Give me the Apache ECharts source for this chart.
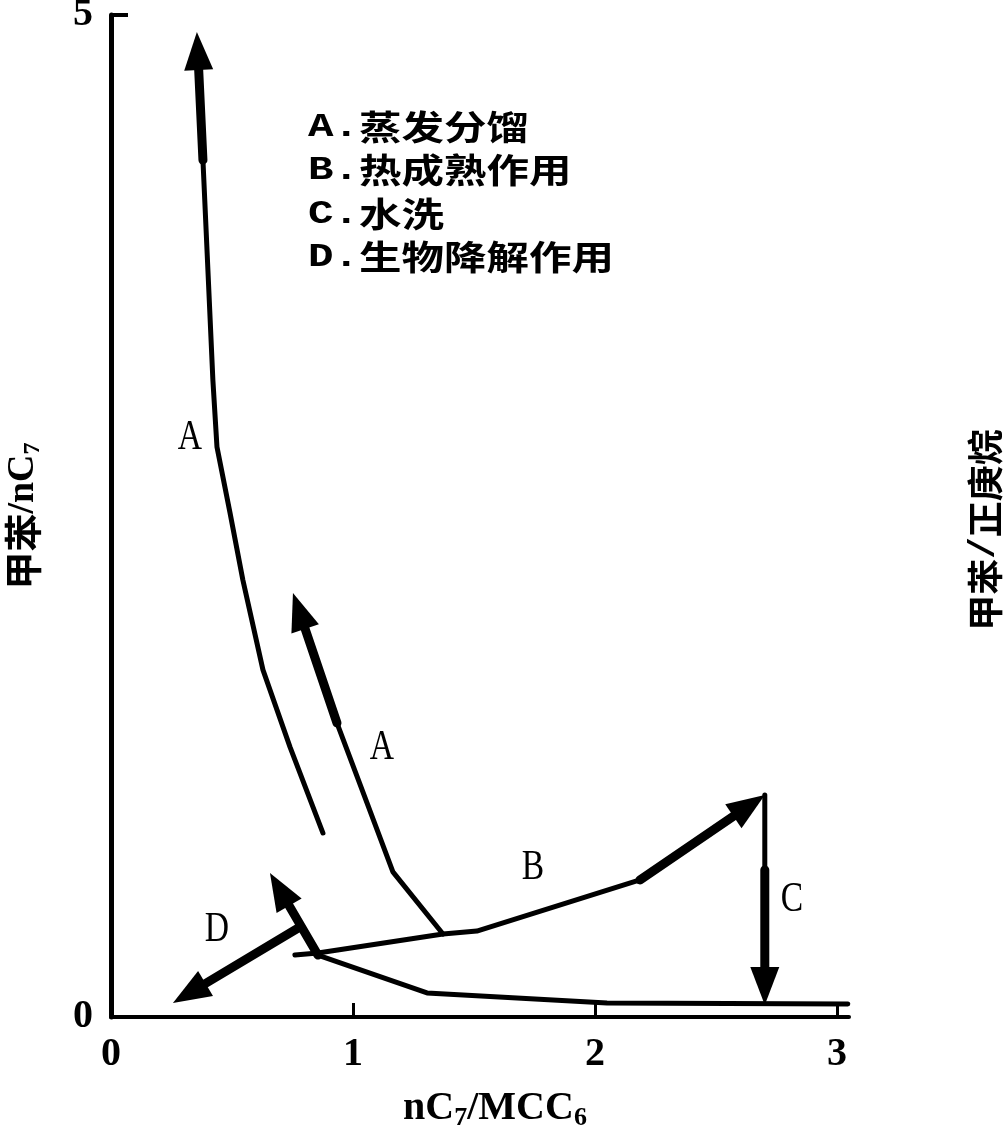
<!DOCTYPE html>
<html>
<head>
<meta charset="utf-8">
<script src="https://cdn.jsdelivr.net/npm/echarts@6/dist/echarts.min.js"></script>
<style>
html,body{margin:0;padding:0;background:#fff;}
#chart{width:1005px;height:1128px;}
</style>
</head>
<body>
<div id="chart"></div>
<script>
// ---- data ----
const xTickValues = [0, 1, 2, 3];
const yTickValues = [0, 5];

// thin polylines
const curveA1 = [[0.876,0.918],[0.740,1.347],[0.628,1.732],[0.545,2.181],[0.492,2.515],[0.438,2.844],[0.421,3.179],[0.380,4.276]];
const curveA2 = [[1.372,0.414],[1.165,0.724],[1.058,1.068],[0.934,1.467]];
const curveB  = [[0.760,0.309],[0.855,0.319],[1.372,0.414],[1.512,0.429],[2.186,0.684]];
const curveC  = [[2.702,1.108],[2.702,0.734]];
const curveLow = [[0.855,0.309],[1.306,0.120],[2.050,0.070],[3.045,0.065]];

// arrows (tail -> tip)
const arrowFrom = [[0.380,4.276],[0.934,1.467],[2.186,0.684],[2.702,0.734],[0.855,0.309],[0.773,0.444]];
const arrowTo   = [[0.355,4.915],[0.752,2.116],[2.702,1.108],[2.702,0.060],[0.657,0.719],[0.256,0.070]];

// in-plot letters
const labelText = ['A', 'A', 'B', 'C', 'D'];
const labelPos  = [[0.326,2.889],[1.120,1.342],[1.744,0.743],[2.814,0.584],[0.438,0.434]];

// legend lines
const legendKeys  = ['A.', 'B.', 'C.', 'D.'];
const legendNames = ['蒸发分馏', '热成熟作用', '水洗', '生物降解作用'];

const xName = 'nC{s|7}/MCC{s|6}';
const yName = '甲苯{l|/nC}{s|7}';
const rightName = ['甲苯', '/', '正庚烷'];

// ---- chart ----
const chart = echarts.init(document.getElementById('chart'));

const lineStyle = {color:'#000', width:5, cap:'round', join:'round'};
function lineSeries(d){
  return {type:'line', data:d, symbol:'none', lineStyle:lineStyle, silent:true, z:3, clip:false};
}

const arrowData = arrowFrom.map((f,i)=>[f[0],f[1],arrowTo[i][0],arrowTo[i][1]]);

const legendGraphics = legendKeys.map((k,i)=>({
  type:'text',
  x:308, y:127 + i*43.5,
  scaleX:1.25,
  style:{
    text:'{m|' + k + '}' + legendNames[i],
    fill:'#000',
    fontFamily:'Noto Sans CJK SC',
    fontSize:34, fontWeight:'bold',
    verticalAlign:'middle', align:'left',
    rich:{ m:{fontFamily:'Liberation Mono', fontSize:34, fontWeight:'bold', fill:'#000'} }
  }
}));

chart.setOption({
  animation:false,
  backgroundColor:'#fff',
  grid:{left:111, top:15, right:156, bottom:111, containLabel:false, outerBoundsMode:'none'},
  xAxis:{
    type:'value', min:0, max:3.05, interval:1,
    name:xName, nameLocation:'middle', nameGap:70,
    nameTextStyle:{
      fontFamily:'Liberation Serif', fontSize:40, fontWeight:'bold', color:'#000', lineHeight:44,
      padding:[0,0,0,30],
      rich:{ s:{fontFamily:'Liberation Serif', fontSize:26, fontWeight:'bold', color:'#000', verticalAlign:'bottom'} }
    },
    axisLine:{show:true, onZero:false, lineStyle:{color:'#000', width:4}},
    axisTick:{show:true, inside:true, length:14, customValues:xTickValues, lineStyle:{color:'#000', width:3}},
    axisLabel:{
      color:'#000', fontFamily:'Liberation Serif', fontSize:40, fontWeight:'bold', margin:18,
      customValues:xTickValues,
      formatter:v => xTickValues.indexOf(v) >= 0 ? String(v) : ''
    },
    splitLine:{show:false}
  },
  yAxis:{
    type:'value', min:0, max:5, interval:5,
    name:yName, nameLocation:'middle', nameGap:66, nameRotate:90,
    nameTextStyle:{
      fontFamily:'Noto Sans CJK SC', fontSize:38, fontWeight:'bold', color:'#000', lineHeight:44,
      rich:{
        l:{fontFamily:'Liberation Serif', fontSize:38, fontWeight:'bold', color:'#000'},
        s:{fontFamily:'Liberation Serif', fontSize:24, fontWeight:'bold', color:'#000', verticalAlign:'bottom'}
      }
    },
    axisLine:{show:true, onZero:false, lineStyle:{color:'#000', width:5}},
    axisTick:{show:true, inside:true, length:17, lineStyle:{color:'#000', width:4}},
    axisLabel:{
      color:'#000', fontFamily:'Liberation Serif', fontSize:40, fontWeight:'bold', margin:18,
      formatter:v => yTickValues.indexOf(v) >= 0 ? String(v) : ''
    },
    splitLine:{show:false}
  },
  graphic:[
    ...legendGraphics,
    {
      type:'text', x:985, y:530, rotation:Math.PI/2,
      style:{
        text:rightName[0] + '{m|' + rightName[1] + '}' + rightName[2],
        fill:'#000', fontFamily:'Noto Sans CJK SC', fontSize:36, fontWeight:'bold',
        align:'center', verticalAlign:'middle',
        rich:{ m:{fontFamily:'Liberation Mono', fontSize:36, fontWeight:'bold', fill:'#000'} }
      }
    }
  ],
  series:[
    lineSeries(curveA1),
    lineSeries(curveA2),
    lineSeries(curveB),
    lineSeries(curveC),
    lineSeries(curveLow),
    {
      type:'custom', data:arrowData, encode:{x:[0,2], y:[1,3]}, clip:false, silent:true, z:4,
      renderItem:function(params, api){
        const p1 = api.coord([api.value(0), api.value(1)]);
        const p2 = api.coord([api.value(2), api.value(3)]);
        const dx = p2[0]-p1[0], dy = p2[1]-p1[1];
        const len = Math.sqrt(dx*dx+dy*dy) || 1;
        const ux = dx/len, uy = dy/len;
        const L = 38, W = 14.5;
        const bx = p2[0]-ux*L, by = p2[1]-uy*L;
        const nx = -uy, ny = ux;
        return {type:'group', children:[
          {type:'line', shape:{x1:p1[0], y1:p1[1], x2:bx+ux*4, y2:by+uy*4},
           style:{stroke:'#000', lineWidth:9, lineCap:'round'}},
          {type:'polygon', shape:{points:[[p2[0],p2[1]],[bx+nx*W, by+ny*W],[bx-nx*W, by-ny*W]]},
           style:{fill:'#000'}}
        ]};
      }
    },
    {
      type:'custom', data:labelPos.map((p,i)=>[p[0],p[1],i]), encode:{x:0, y:1}, clip:false, silent:true, z:5,
      renderItem:function(params, api){
        const p = api.coord([api.value(0), api.value(1)]);
        return {type:'text', x:p[0], y:p[1], scaleX:0.8,
          style:{text:labelText[api.value(2)], fill:'#000', fontFamily:'Liberation Serif',
                 fontSize:42, align:'center', verticalAlign:'middle'}};
      }
    }
  ]
});
</script>
</body>
</html>
